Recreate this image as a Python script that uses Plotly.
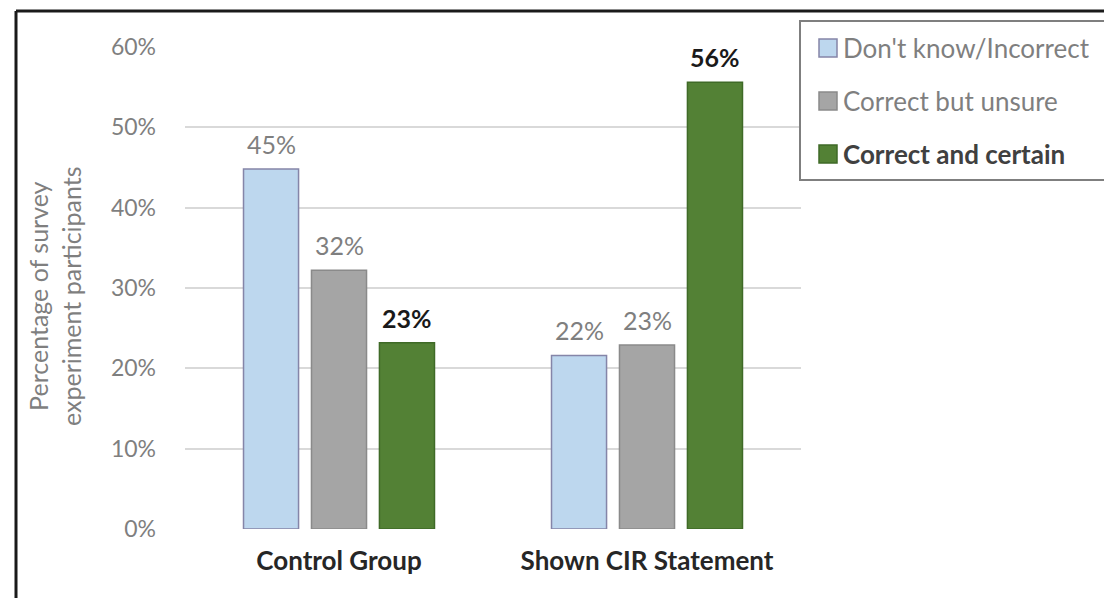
import plotly.graph_objects as go

# data
groups = ["Control Group", "Shown CIR Statement"]
series_names = ["Don't know/Incorrect", "Correct but unsure", "Correct and certain"]
dont_know = [44.8, 21.6]
unsure = [32.2, 22.9]
certain = [23.2, 55.6]
y_ticks = [0, 10, 20, 30, 40, 50, 60]

series_values = [dont_know, unsure, certain]
fills = ["#bdd7ee", "#a5a5a5", "#538135"]
outlines = ["#8585a8", "#8a8a8a", "#3f6a27"]
label_colors = ["#7f7f7f", "#7f7f7f", "#1a1a1a"]
label_bold = [False, False, True]

FONT = "Lato"
W, H = 1112, 598
L, R, T, B = 177, 319, 39, 77
BARGAP, GROUPGAP = 0.338, 0.19

fig = go.Figure()

for name, vals, fc, lc in zip(series_names, series_values, fills, outlines):
    fig.add_trace(go.Bar(
        x=groups, y=vals, name=name,
        marker=dict(color=fc, line=dict(color=lc, width=1.5)),
        showlegend=False,
        hoverinfo='skip'
    ))

# value labels above the bars
plot_w = W - L - R
plot_h = H - T - B
cat_w = plot_w / len(groups)
slot_w = cat_w * (1 - BARGAP) / len(series_names)
for i, vals in enumerate(series_values):
    for g, v in zip(groups, vals):
        txt = f"{v:.0f}%"
        if label_bold[i]:
            txt = f"<b>{txt}</b>"
        fig.add_annotation(
            x=g, y=v, xref='x', yref='y', text=txt, showarrow=False,
            xshift=(i - 1) * slot_w, yanchor='bottom', yshift=8,
            font=dict(family=FONT, size=25, color=label_colors[i])
        )

def px(xp):
    return (xp - L) / plot_w

def py(yp):
    return (H - B - yp) / plot_h

# y axis title
fig.add_annotation(
    x=px(46), y=py(288), xref='paper', yref='paper',
    text="Percentage of survey<br>experiment participants",
    textangle=-90, showarrow=False, xanchor='center', yanchor='middle',
    font=dict(family=FONT, size=25, color="#7f7f7f")
)

# legend box, drawn by hand to match the original
fig.add_shape(type='rect', xref='paper', yref='paper',
              x0=px(792), x1=px(1104), y0=py(172), y1=py(13),
              line=dict(color="#7f7f7f", width=2), fillcolor='white')
for i, name in enumerate(series_names):
    yc = 40 + i * 53
    fig.add_shape(type='rect', xref='paper', yref='paper',
                  x0=px(811), x1=px(829), y0=py(yc + 9), y1=py(yc - 9),
                  line=dict(color=outlines[i], width=1.5), fillcolor=fills[i])
    txt = f"<b>{name}</b>" if label_bold[i] else name
    fig.add_annotation(x=px(833), y=py(yc), xref='paper', yref='paper',
                       text=txt, showarrow=False, xanchor='left', yanchor='middle',
                       font=dict(family=FONT, size=26,
                                 color="#404040" if label_bold[i] else "#7f7f7f"))

# outer frame (left and top edges visible in the original)
fig.add_shape(type='line', xref='paper', yref='paper',
              x0=px(8), x1=px(8), y0=py(598), y1=py(3),
              line=dict(color="#1a1a1a", width=3))
fig.add_shape(type='line', xref='paper', yref='paper',
              x0=px(8), x1=px(1112), y0=py(3), y1=py(3),
              line=dict(color="#1a1a1a", width=3))

fig.update_layout(
    width=W, height=H,
    margin=dict(l=L, r=R, t=T, b=B),
    barmode='group', bargap=BARGAP, bargroupgap=GROUPGAP,
    plot_bgcolor='white', paper_bgcolor='white',
    showlegend=False,
    xaxis=dict(
        showgrid=False, zeroline=False, showline=False,
        tickfont=dict(family=FONT, size=26, color="#262626", weight='bold'),
        ticklabelstandoff=14
    ),
    yaxis=dict(
        range=[0, 60], tickvals=y_ticks,
        ticktext=[f"{t}%" for t in y_ticks],
        showgrid=True, gridcolor="#d9d9d9", gridwidth=1.5,
        zeroline=False, showline=False,
        tickfont=dict(family=FONT, size=23, color="#7f7f7f"),
        ticklabelstandoff=28
    )
)

fig.write_html("out.html")
